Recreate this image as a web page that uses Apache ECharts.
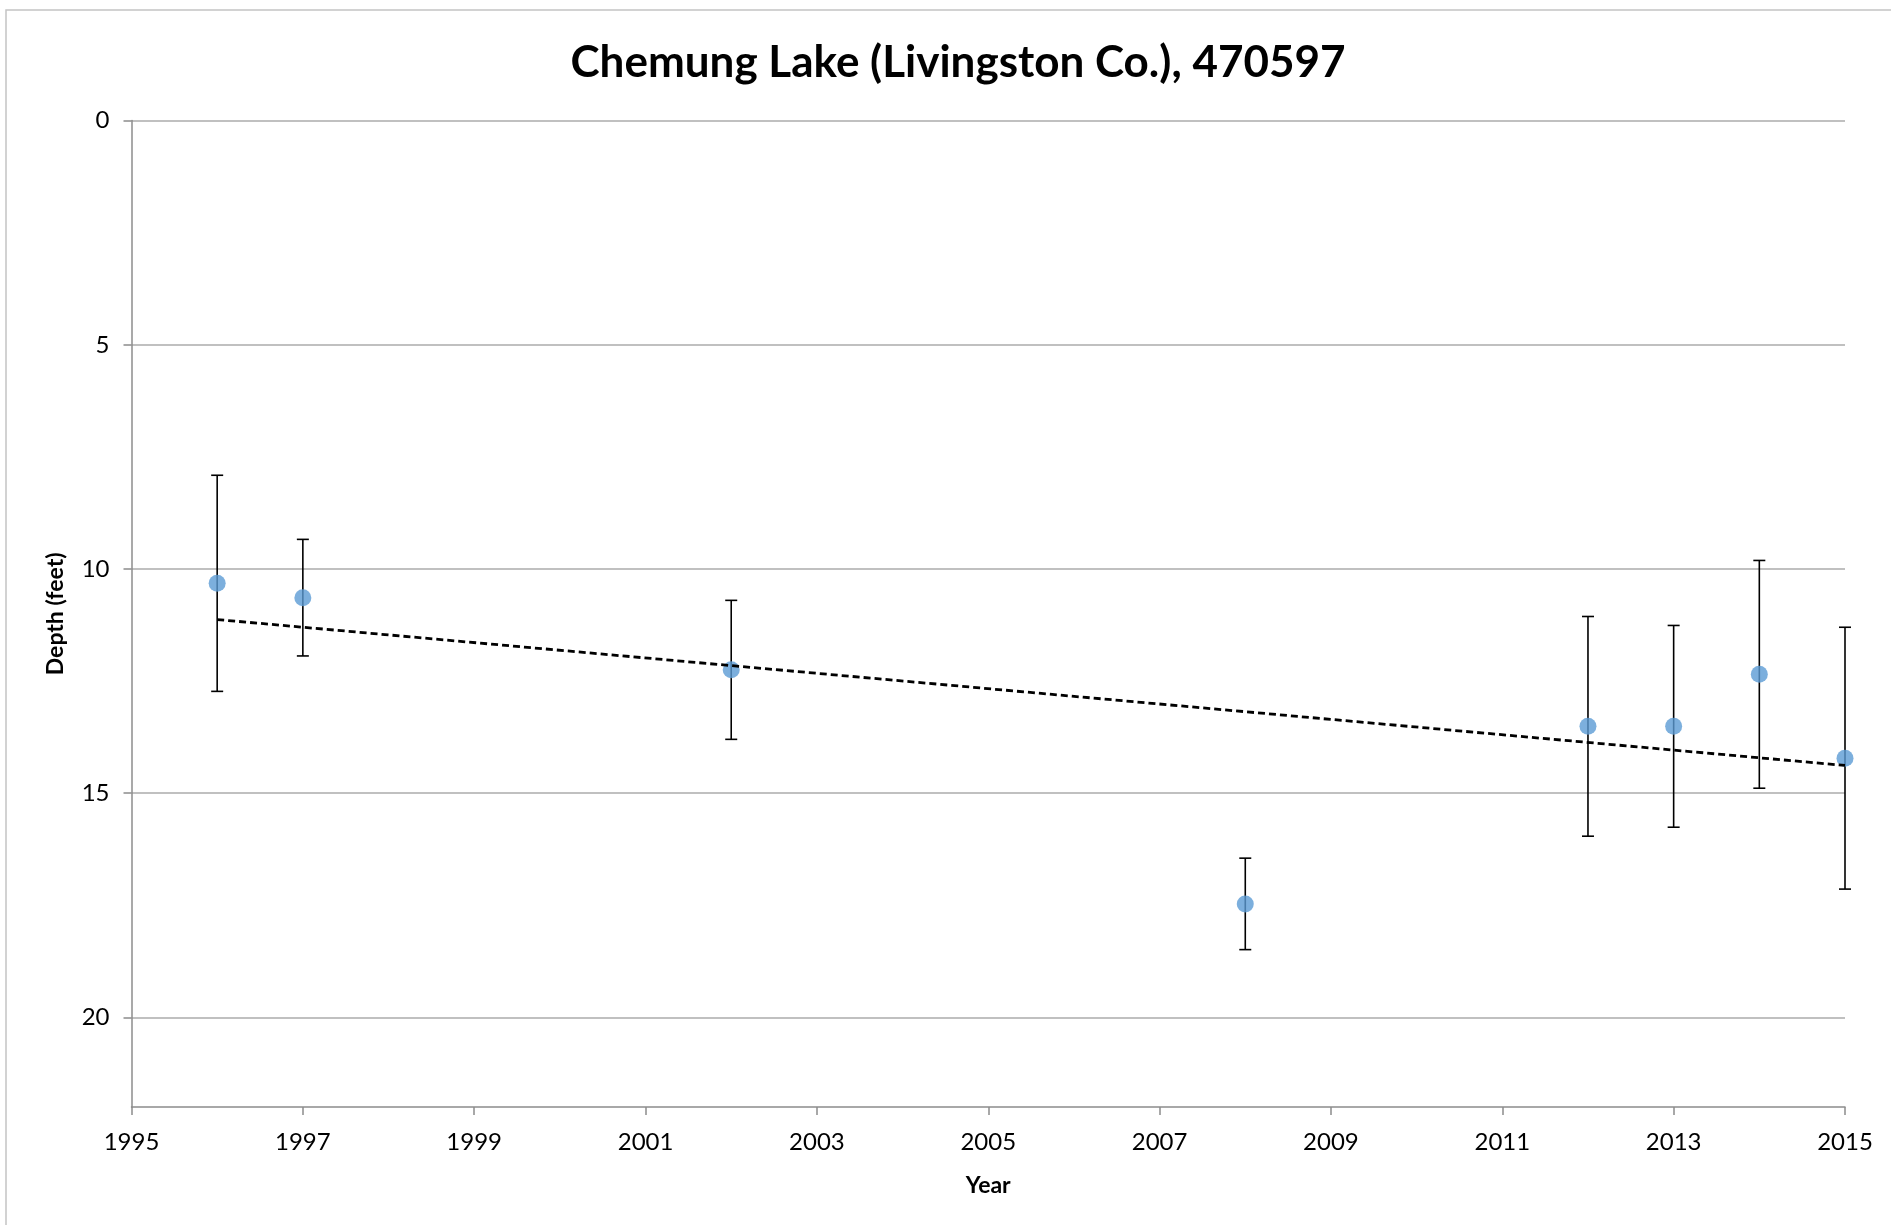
<!DOCTYPE html>
<html>
<head>
<meta charset="utf-8">
<script src="https://cdn.jsdelivr.net/npm/echarts@6/dist/echarts.min.js"></script>
<style>
html, body { margin: 0; padding: 0; background: #fff; }
#chart { width: 1891px; height: 1225px; }
</style>
</head>
<body>
<div id="chart"></div>
<script>
// Secchi depth readings
const years = [1996, 1997, 2002, 2008, 2012, 2013, 2014, 2015];
const depths = [10.32, 10.64, 12.25, 17.47, 13.51, 13.51, 12.35, 14.22];
const errors = [2.41, 1.30, 1.55, 1.02, 2.45, 2.25, 2.54, 2.92];
const depthTicks = [0, 5, 10, 15, 20];

// linear trend (least squares) like the spreadsheet trendline
function trend(xs, ys) {
    const n = xs.length;
    const mx = xs.reduce((a, b) => a + b, 0) / n;
    const my = ys.reduce((a, b) => a + b, 0) / n;
    let sxy = 0, sxx = 0;
    for (let i = 0; i < n; i++) {
        sxy += (xs[i] - mx) * (ys[i] - my);
        sxx += (xs[i] - mx) * (xs[i] - mx);
    }
    const k = sxy / sxx;
    const x0 = Math.min(...xs), x1 = Math.max(...xs);
    return [[x0, my + k * (x0 - mx)], [x1, my + k * (x1 - mx)]];
}

const font = 'Lato, "Open Sans", sans-serif';
const chart = echarts.init(document.getElementById('chart'));

const option = {
    animation: false,
    backgroundColor: '#fff',
    title: {
        text: 'Chemung Lake (Livingston Co.), 470597',
        left: 953,
        top: 36,
        textAlign: 'center',
        textStyle: { fontFamily: font, fontWeight: 'bold', fontSize: 44, color: '#000' }
    },
    graphic: [{
        type: 'rect',
        x: 6, y: 10,
        shape: { x: 0, y: 0, width: 2000, height: 1400 },
        style: { fill: null, stroke: '#c4c4c4', lineWidth: 1.5 },
        z: -10
    }],
    grid: { left: 131.5, right: 46, top: 120.6, bottom: 118 },
    xAxis: {
        type: 'value',
        min: 1995, max: 2015, interval: 2,
        name: 'Year',
        nameLocation: 'middle',
        nameGap: 67,
        nameTextStyle: { fontFamily: font, fontWeight: 'bold', fontSize: 23, color: '#000' },
        axisLine: { onZero: false, lineStyle: { color: '#8c8c8c', width: 1.5 } },
        axisTick: { show: true, length: 8, lineStyle: { color: '#8c8c8c', width: 1.5 } },
        axisLabel: { margin: 23, fontFamily: font, fontSize: 24, color: '#000',
            formatter: v => String(v) },
        splitLine: { show: false }
    },
    yAxis: {
        type: 'value',
        inverse: true,
        min: 0, max: 22, interval: 5,
        name: 'Depth (feet)',
        nameLocation: 'middle',
        nameGap: 64,
        nameTextStyle: { fontFamily: font, fontWeight: 'bold', fontSize: 23, color: '#000' },
        axisLine: { show: true, lineStyle: { color: '#8c8c8c', width: 1.5 } },
        axisTick: { show: true, length: 8, lineStyle: { color: '#8c8c8c', width: 1.5 },
            customValues: depthTicks },
        axisLabel: { margin: 22, fontFamily: font, fontSize: 24, color: '#000',
            customValues: depthTicks },
        splitLine: { show: true, lineStyle: { color: '#c0c0c0', width: 2 } }
    },
    series: [
        {
            name: 'error',
            type: 'custom',
            z: 1,
            data: years.map((y, i) => [y, depths[i] - errors[i], depths[i] + errors[i]]),
            renderItem: function (params, api) {
                const top = api.coord([api.value(0), api.value(1)]);
                const bot = api.coord([api.value(0), api.value(2)]);
                const cap = 6;
                const st = { stroke: '#000', lineWidth: 1.6 };
                return {
                    type: 'group',
                    children: [
                        { type: 'line', shape: { x1: top[0], y1: top[1], x2: bot[0], y2: bot[1] }, style: st },
                        { type: 'line', shape: { x1: top[0] - cap, y1: top[1], x2: top[0] + cap, y2: top[1] }, style: st },
                        { type: 'line', shape: { x1: bot[0] - cap, y1: bot[1], x2: bot[0] + cap, y2: bot[1] }, style: st }
                    ]
                };
            }
        },
        {
            name: 'depth',
            type: 'scatter',
            z: 2,
            symbol: 'circle',
            symbolSize: 17,
            itemStyle: { color: '#5b9bd5' },
            data: years.map((y, i) => [y, depths[i]])
        },
        {
            name: 'trend',
            type: 'line',
            z: 3,
            symbol: 'none',
            lineStyle: { color: '#000', width: 2.8, type: [7, 4] },
            data: trend(years, depths)
        }
    ]
};
option && chart.setOption(option);
</script>
</body>
</html>
